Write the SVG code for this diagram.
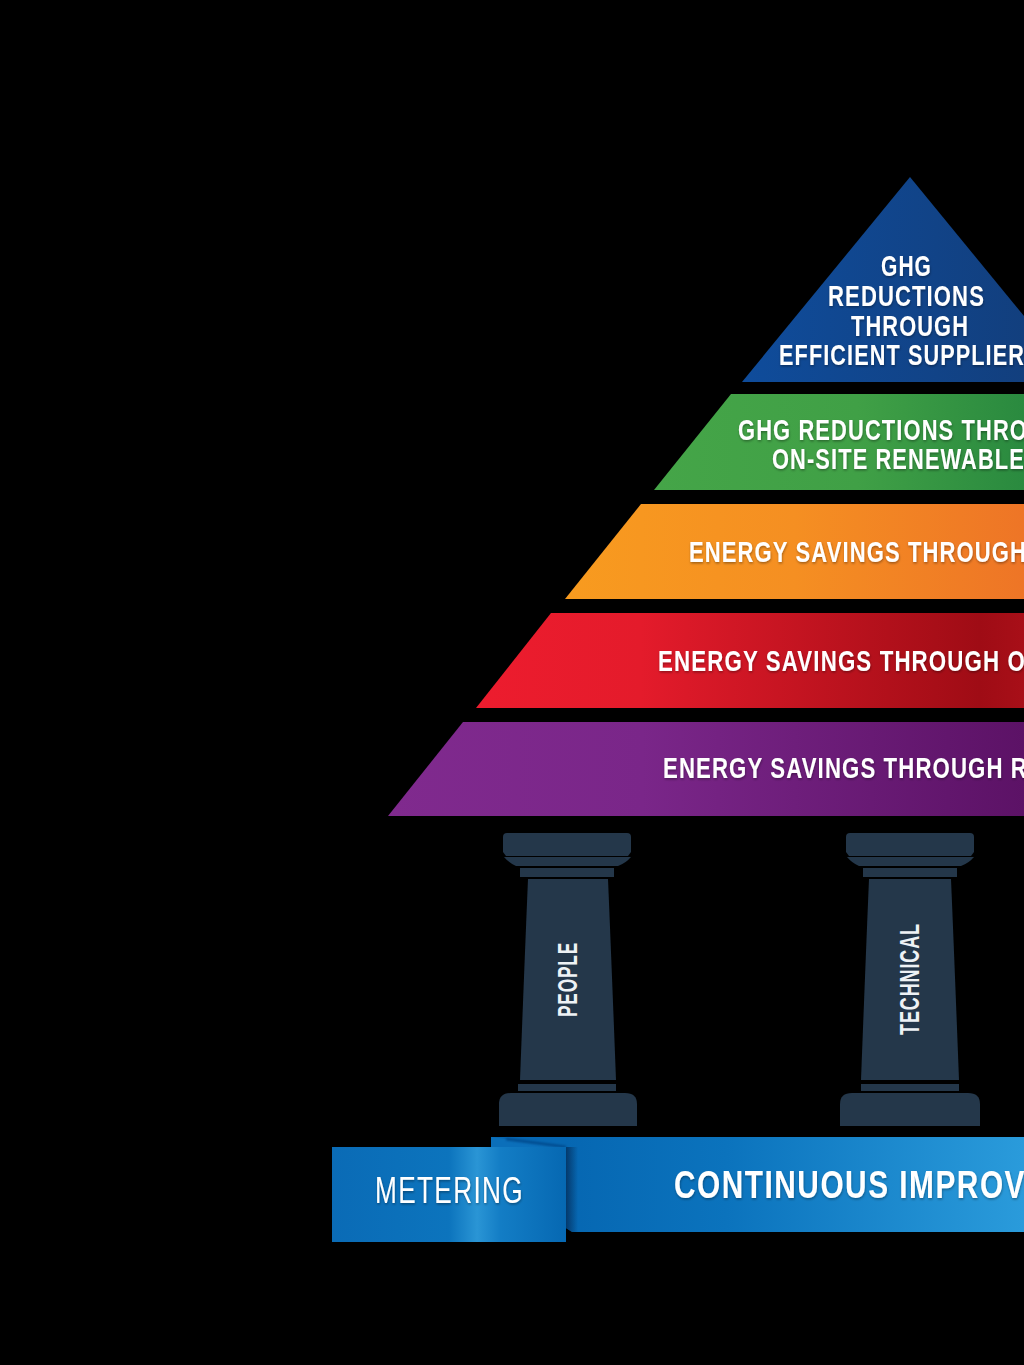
<svg xmlns="http://www.w3.org/2000/svg" width="1024" height="1365" viewBox="0 0 1024 1365">
<style>
text{font-family:"Liberation Sans Narrow","Liberation Sans",Arial,sans-serif;font-weight:700;fill:#fff;letter-spacing:.05em;filter:url(#ts)}
.tier{font-size:30px}
.pil{fill:#24374a}
.lab{font-size:27px;filter:none;fill:#eef2f5}
</style>
<defs>
<filter id="ts" x="-5%" y="-20%" width="110%" height="150%"><feDropShadow dx="0.5" dy="1.5" stdDeviation="1" flood-color="#000" flood-opacity=".35"/></filter>
<filter id="blur1" x="-20%" y="-50%" width="140%" height="200%"><feGaussianBlur stdDeviation="1"/></filter>
<linearGradient id="gBlue" gradientUnits="userSpaceOnUse" x1="742" y1="0" x2="1024" y2="0"><stop offset="0" stop-color="#0f4c9b"/><stop offset="1" stop-color="#123f7e"/></linearGradient>
<linearGradient id="gGreen" gradientUnits="userSpaceOnUse" x1="654" y1="0" x2="1024" y2="0"><stop offset="0" stop-color="#45a548"/><stop offset=".55" stop-color="#40a046"/><stop offset="1" stop-color="#2a8a3f"/></linearGradient>
<linearGradient id="gOrange" gradientUnits="userSpaceOnUse" x1="565" y1="0" x2="1024" y2="0"><stop offset="0" stop-color="#f89b1f"/><stop offset=".5" stop-color="#f58f22"/><stop offset="1" stop-color="#ee7526"/></linearGradient>
<linearGradient id="gRed" gradientUnits="userSpaceOnUse" x1="476" y1="0" x2="1024" y2="0"><stop offset="0" stop-color="#ed1c2e"/><stop offset=".3" stop-color="#e41b2b"/><stop offset=".92" stop-color="#9f0c15"/><stop offset="1" stop-color="#a80f18"/></linearGradient>
<linearGradient id="gPurple" gradientUnits="userSpaceOnUse" x1="388" y1="0" x2="1024" y2="0"><stop offset="0" stop-color="#802a8e"/><stop offset=".4" stop-color="#7a2689"/><stop offset="1" stop-color="#5c1266"/></linearGradient>
<linearGradient id="gRib" gradientUnits="userSpaceOnUse" x1="566" y1="0" x2="1024" y2="0"><stop offset="0" stop-color="#0667b2"/><stop offset=".35" stop-color="#0b73bd"/><stop offset="1" stop-color="#2a9bdb"/></linearGradient>
<linearGradient id="gMet" gradientUnits="userSpaceOnUse" x1="332" y1="0" x2="566" y2="0"><stop offset="0" stop-color="#0a6bb6"/><stop offset=".5" stop-color="#0c74bd"/><stop offset=".62" stop-color="#2a95d5"/><stop offset=".72" stop-color="#137dc5"/><stop offset="1" stop-color="#0668b2"/></linearGradient>
<linearGradient id="gShade" gradientUnits="userSpaceOnUse" x1="566" y1="0" x2="578" y2="0"><stop offset="0" stop-color="#04315f" stop-opacity=".85"/><stop offset="1" stop-color="#04315f" stop-opacity="0"/></linearGradient>
</defs>
<rect id="background" width="1024" height="1365" fill="#000"/>
<g id="tier-suppliers">
<polygon points="910,177 1078,382 742,382" fill="url(#gBlue)"/>
<text class="tier" x="881" y="276" textLength="51" lengthAdjust="spacingAndGlyphs">GHG</text>
<text class="tier" x="828" y="306" textLength="157" lengthAdjust="spacingAndGlyphs">REDUCTIONS</text>
<text class="tier" x="851" y="336" textLength="118" lengthAdjust="spacingAndGlyphs">THROUGH</text>
<text class="tier" x="779" y="365" textLength="246" lengthAdjust="spacingAndGlyphs">EFFICIENT SUPPLIER</text>
</g>
<g id="tier-renewables">
<polygon points="731,394 1024,394 1024,490 654,490" fill="url(#gGreen)"/>
<text class="tier" x="738" y="440" textLength="290" lengthAdjust="spacingAndGlyphs">GHG REDUCTIONS THRO</text>
<text class="tier" x="772" y="469" textLength="253" lengthAdjust="spacingAndGlyphs">ON-SITE RENEWABLE</text>
</g>
<g id="tier-orange">
<polygon points="641,504 1024,504 1024,599 565,599" fill="url(#gOrange)"/>
<text class="tier" x="689" y="562" textLength="338" lengthAdjust="spacingAndGlyphs">ENERGY SAVINGS THROUGH</text>
</g>
<g id="tier-red">
<polygon points="551,613 1024,613 1024,708 476,708" fill="url(#gRed)"/>
<text class="tier" x="658" y="671" textLength="368" lengthAdjust="spacingAndGlyphs">ENERGY SAVINGS THROUGH O</text>
</g>
<g id="tier-purple">
<polygon points="463,722 1024,722 1024,816 388,816" fill="url(#gPurple)"/>
<text class="tier" x="663" y="778" textLength="365" lengthAdjust="spacingAndGlyphs">ENERGY SAVINGS THROUGH R</text>
</g>
<g id="pillar-people">
<path class="pil" d="M503 837Q503 833 507 833H627Q631 833 631 837V852L628 856H506L503 852Z"/>
<path class="pil" d="M504 857H631Q626 863 618 866H516Q509 863 504 857Z"/>
<rect class="pil" x="520" y="868" width="94" height="9"/>
<path class="pil" d="M528 879H608Q611 950 616 1080H520Q525 950 528 879Z"/>
<rect class="pil" x="518" y="1084" width="98" height="7"/>
<path class="pil" d="M499 1126V1104Q499 1093 511 1093H625Q637 1093 637 1104V1126Z"/>
<text class="lab" transform="translate(577 1017) rotate(-90)" textLength="75" lengthAdjust="spacingAndGlyphs">PEOPLE</text>
</g>
<g id="pillar-technical">
<path class="pil" d="M846 837Q846 833 850 833H970Q974 833 974 837V852L971 856H849L846 852Z"/>
<path class="pil" d="M847 857H974Q969 863 961 866H859Q852 863 847 857Z"/>
<rect class="pil" x="863" y="868" width="94" height="9"/>
<path class="pil" d="M869 879H951Q954 950 959 1080H861Q866 950 869 879Z"/>
<rect class="pil" x="861" y="1084" width="98" height="7"/>
<path class="pil" d="M840 1126V1104Q840 1093 852 1093H968Q980 1093 980 1104V1126Z"/>
<text class="lab" transform="translate(919 1035) rotate(-90)" textLength="112" lengthAdjust="spacingAndGlyphs">TECHNICAL</text>
</g>
<g id="continuous-improvement">
<polygon points="491,1137 1024,1137 1024,1232 572,1232 566,1228 566,1147 491,1147" fill="url(#gRib)"/>
<polygon points="566,1147 578,1147 578,1232 572,1232 566,1228" fill="url(#gShade)"/>
<polygon points="491,1137 566,1147 491,1147" fill="#0b6fba"/>
<polyline points="506,1139 566,1147" fill="none" stroke="#064a8c" stroke-width="2.5" filter="url(#blur1)"/>
<text x="674" y="1198" font-size="38" textLength="352" lengthAdjust="spacingAndGlyphs">CONTINUOUS IMPROV</text>
</g>
<g id="metering">
<rect x="332" y="1147" width="234" height="95" fill="url(#gMet)"/>
<text x="375" y="1203" font-size="36" style="font-weight:400" textLength="149" lengthAdjust="spacingAndGlyphs">METERING</text>
</g>
</svg>
